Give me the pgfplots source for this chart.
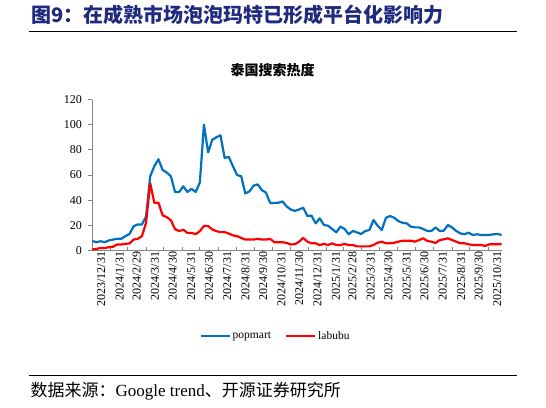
\documentclass[border=0pt]{standalone}
\usepackage{fontspec}
\setmainfont{Liberation Serif}
\newfontfamily\cjk{Noto Sans CJK SC}
\usepackage{pgfplots}
\usepackage{pgfplotstable}
\pgfplotsset{compat=1.18}
\definecolor{titleblue}{RGB}{30,42,125}
\definecolor{pmblue}{RGB}{0,112,192}
\definecolor{lbred}{RGB}{255,0,0}
\definecolor{axgray}{RGB}{134,134,134}

\pgfplotstableread{
w v
0 7.5
1 6.6
2 7.4
3 6.6
4 8
5 8.7
6 9.3
7 9.3
8 11.4
9 13.2
10 19.3
11 20.7
12 20.7
13 27
14 59
15 67
16 72.5
17 64
18 62
19 59
20 46.5
21 46.5
22 51
23 46.5
24 49
25 46.5
26 54
27 100
28 78
29 88
30 90
31 91.5
32 73.6
33 74.4
34 67
35 60
36 59
37 45.3
38 47
39 51.6
40 52.5
41 48
42 46
43 37.8
44 37.8
45 38
46 39
47 35
48 32.5
49 31.5
50 32.6
51 34
52 27.5
53 27.7
54 21.6
55 25.6
56 20.3
57 19.7
58 17.1
59 14.4
60 19
61 17.1
62 12.9
63 15.5
64 14.4
65 13.1
66 15.5
67 16.3
68 24.2
69 19.7
70 16.3
71 26
72 27.4
73 26
74 23.4
75 22
76 21.6
77 19
78 18.4
79 18.4
80 17.1
81 15.5
82 15.5
83 18.4
84 15.5
85 15.8
86 20.3
87 18.2
88 15.5
89 13.6
90 12.9
91 14.2
92 12.3
93 12.9
94 12.3
95 12.3
96 12.3
97 12.9
98 13.1
99 12.3
}\popmart

\pgfplotstableread{
w v
0 0.8
1 1.3
2 2
3 2
4 2.6
5 3
6 4.8
7 4.8
8 5.3
9 5.6
10 8.7
11 9.3
12 11.4
13 22
14 53.5
15 38
16 38
17 28
18 26.5
19 24
20 17
21 15.4
22 16.5
23 14
24 14
25 13
26 15.4
27 19.5
28 19.5
29 16.7
30 15.4
31 14.6
32 14.6
33 13.5
34 12
35 11.4
36 10
37 8.7
38 8.7
39 8.7
40 9.3
41 8.7
42 8.7
43 9.3
44 6.6
45 6.6
46 6.6
47 6
48 4.8
49 5
50 7
51 10
52 7
53 5.7
54 5.7
55 4.4
56 5.2
57 4.4
58 5.7
59 4.4
60 4.4
61 5.2
62 4.4
63 4.4
64 3.3
65 3.3
66 3.3
67 3.3
68 4.4
69 6.2
70 7
71 5.7
72 5.7
73 6.2
74 7
75 7.8
76 7.8
77 7.8
78 7
79 8.3
80 9.7
81 7.6
82 7
83 6
84 8.3
85 8.9
86 9.7
87 8.3
88 7
89 5.7
90 5.7
91 4.9
92 4.4
93 4.4
94 4.4
95 3.6
96 4.9
97 4.9
98 4.9
99 4.9
}\labubu

\begin{document}
\begin{tikzpicture}[x=1bp,y=1bp]
\path[use as bounding box] (0,0) rectangle (546,407);
% title
\node[anchor=west, inner sep=0pt, text=titleblue, font=\cjk\bfseries\fontsize{20bp}{22bp}\selectfont] at (31,392) {图9：在成熟市场泡泡玛特已形成平台化影响力};
\draw[line width=1bp] (29,376) -- (517,376);
\node[inner sep=0pt, font=\cjk\bfseries\fontsize{14bp}{16bp}\selectfont] at (272.5,337) {泰国搜索热度};

\begin{axis}[
  at={(92.3bp,156.5bp)}, anchor=south west,
  scale only axis, width=409.4bp, height=151bp,
  xmin=0, xmax=693, ymin=0, ymax=120,
  axis lines=left, axis line style={-, draw=axgray, line width=0.9bp},
  ytick={0,20,...,120},
  xtick={0,31,60,91,121,152,182,213,244,274,305,335,366,397,425,456,486,517,547,578,609,639,670},
  xticklabels={2023/12/31,2024/1/31,2024/2/29,2024/3/31,2024/4/30,2024/5/31,2024/6/30,2024/7/31,2024/8/31,2024/9/30,2024/10/31,2024/11/30,2024/12/31,2025/1/31,2025/2/28,2025/3/31,2025/4/30,2025/5/31,2025/6/30,2025/7/31,2025/8/31,2025/9/30,2025/10/31},
  xticklabel style={rotate=90, anchor=east, font=\fontsize{12bp}{13bp}\selectfont, inner sep=1bp, yshift=-9bp},
  yticklabel style={font=\fontsize{12bp}{13bp}\selectfont, xshift=-3bp},
  /pgf/number format/assume math mode=true,
  tick style={draw=axgray, line width=0.8bp},
  major tick length=4bp,
  xtick align=inside, ytick align=outside,
  legend columns=2,
  legend style={at={(0.4475,-0.566)}, anchor=center, draw=none, fill=none,
    font=\fontsize{11.5bp}{12bp}\selectfont,
    /tikz/every even column/.append style={column sep=12bp}},
  legend image code/.code={\draw[#1, line width=2.2bp] (0bp,0bp) -- (29bp,0bp);},
]
\addplot[pmblue, line width=2.2bp, line join=round] table[x expr=\thisrow{w}*7, y=v] {\popmart};
\addlegendentry{popmart}
\addplot[lbred, line width=2.2bp, line join=round] table[x expr=\thisrow{w}*7, y=v] {\labubu};
\addlegendentry{labubu}
\end{axis}

\draw[line width=1bp] (29,32) -- (517,32);
\node[anchor=west, inner sep=0pt, font=\fontsize{17bp}{19bp}\selectfont] at (30.5,15.5) {{\cjk 数据来源：}Google trend{\cjk 、开源证券研究所}};
\end{tikzpicture}
\end{document}
